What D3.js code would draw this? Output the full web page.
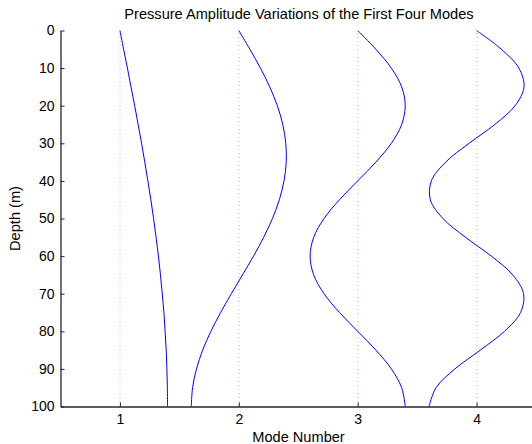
<!DOCTYPE html>
<html>
<head>
<meta charset="utf-8">
<script src="https://cdn.jsdelivr.net/npm/d3@7"></script>
<style>
  html, body { margin: 0; padding: 0; background: #fff; }
  svg { display: block; }
  text { font-family: "Liberation Sans", Arial, sans-serif; fill: #000; }
</style>
</head>
<body>
<svg id="chart" width="532" height="444"></svg>
<script>
// Data
const depths = [0,5,10,15,20,25,30,35,40,45,50,55,60,65,70,75,80,85,90,95,100];
const modeNumbers = [1, 2, 3, 4];
// Horizontal offset of each mode curve from its mode number, per depth
const mode1 = [0,0.031,0.063,0.093,0.124,0.153,0.182,0.209,0.235,0.260,0.283,0.304,0.324,0.341,0.356,0.370,0.380,0.389,0.395,0.399,0.400];
const mode2 = [0,0.093,0.182,0.260,0.324,0.370,0.395,0.399,0.380,0.341,0.283,0.209,0.124,0.031,-0.063,-0.153,-0.235,-0.304,-0.356,-0.389,-0.400];
const mode3 = [0,0.153,0.283,0.370,0.400,0.370,0.283,0.153,0,-0.153,-0.283,-0.370,-0.400,-0.370,-0.283,-0.153,0,0.153,0.283,0.370,0.400];
const mode4 = [0,0.209,0.356,0.399,0.324,0.153,-0.063,-0.260,-0.380,-0.389,-0.283,-0.093,0.124,0.304,0.395,0.370,0.235,0.031,-0.182,-0.341,-0.400];
const yTicks = [0,10,20,30,40,50,60,70,80,90,100];
const xTicks = [1,2,3,4];
const titleText = "Pressure Amplitude Variations of the First Four Modes";
const xLabel = "Mode Number";
const yLabel = "Depth (m)";

const modes = [mode1, mode2, mode3, mode4];

const svg = d3.select("#chart");
const mLeft = 60.5, mRight = 536, mTop = 30.5, mBottom = 406.5;

const x = d3.scaleLinear().domain([0.5, 4.5]).range([mLeft, mRight]);
const y = d3.scaleLinear().domain([0, 100]).range([mTop, mBottom]);

// dotted vertical grid lines at mode numbers
const gridColors = ["#9a9ae6", "#e6a0a0", "#9ad09a", "#a0d8e0", "#d8a0d8", "#d8d8a0"];
xTicks.forEach(t => {
  const xp = Math.round(x(t));
  for (let yy = Math.ceil(mTop) + 2, i = 0; yy < mBottom; yy += 4, i++) {
    svg.append("rect")
      .attr("x", xp - 0.5).attr("y", yy)
      .attr("width", 1).attr("height", 1)
      .attr("fill", gridColors[i % gridColors.length]);
  }
});

// curves
const line = d3.line()
  .x(d => x(d[0]))
  .y(d => y(d[1]))
  .curve(d3.curveCatmullRom.alpha(0.5));

modes.forEach((m, i) => {
  const pts = depths.map((dp, j) => [modeNumbers[i] + m[j], dp]);
  svg.append("path")
    .attr("d", line(pts))
    .attr("fill", "none")
    .attr("stroke", "#0000ff")
    .attr("stroke-width", 1);
});

// axes
const xAxis = d3.axisBottom(x).tickValues(xTicks).tickFormat(d3.format("d")).tickSizeInner(-4).tickSizeOuter(0).tickPadding(8);
const yAxis = d3.axisLeft(y).tickValues(yTicks).tickFormat(d3.format("d")).tickSizeInner(-4).tickSizeOuter(0).tickPadding(6);

const gx = svg.append("g").attr("transform", `translate(0,${mBottom})`).call(xAxis);
const gy = svg.append("g").attr("transform", `translate(${mLeft},0)`).call(yAxis);

[gx, gy].forEach(g => {
  g.select(".domain").attr("stroke", "#262626").attr("stroke-width", 1.3);
  g.selectAll(".tick line").attr("stroke", "#262626");
  g.selectAll(".tick text").style("font-size", "14px").style("font-family", "'Liberation Sans', Arial, sans-serif").attr("fill", "#000");
});

// labels
svg.append("text")
  .attr("x", 299).attr("y", 19)
  .attr("text-anchor", "middle")
  .style("font-size", "14.6px")
  .text(titleText);

svg.append("text")
  .attr("x", 298.5).attr("y", 441.5)
  .attr("text-anchor", "middle")
  .style("font-size", "14.6px")
  .text(xLabel);

svg.append("text")
  .attr("transform", `translate(20,${(mTop + mBottom) / 2}) rotate(-90)`)
  .attr("text-anchor", "middle")
  .style("font-size", "14.6px")
  .text(yLabel);
</script>
</body>
</html>
